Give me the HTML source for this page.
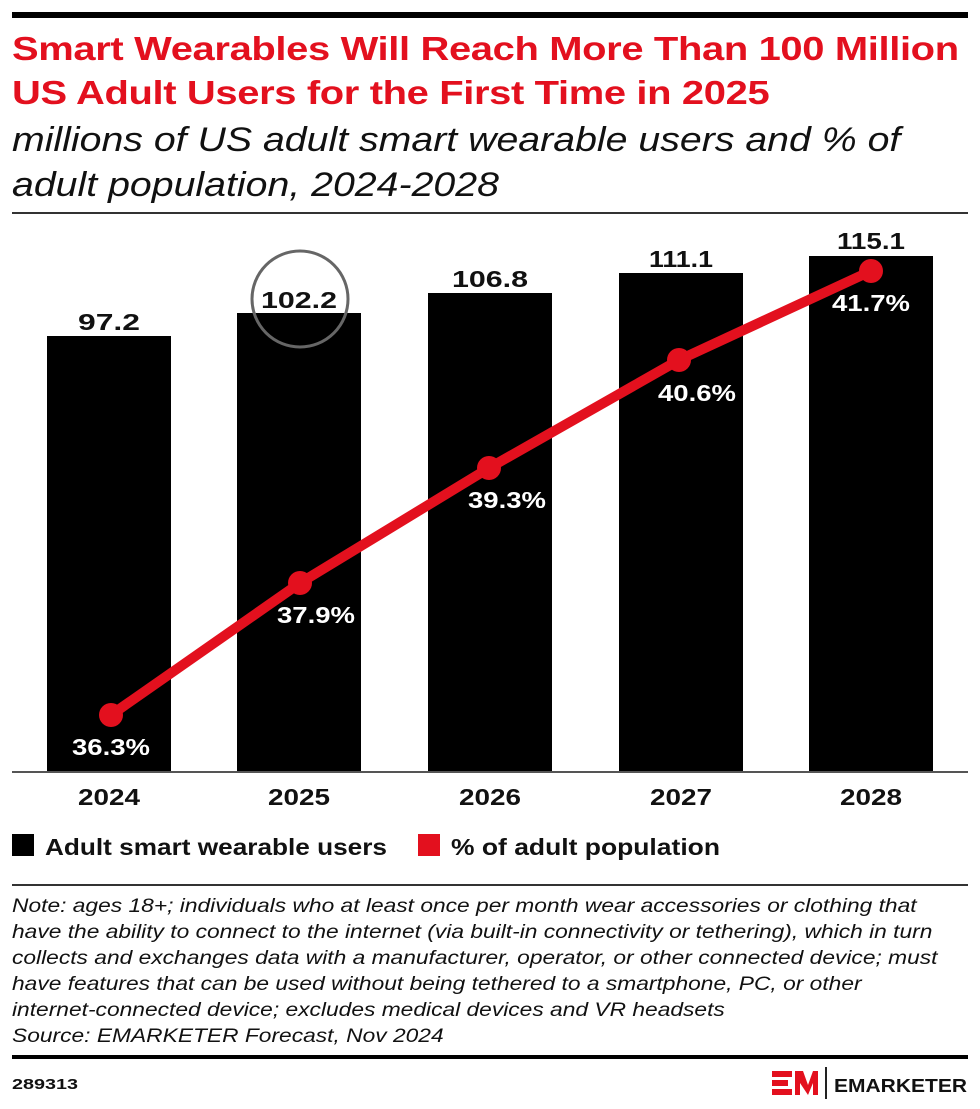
<!DOCTYPE html>
<html><head><style>
body{margin:0;background:#fff;width:980px;height:1109px;position:relative;font-family:"Liberation Sans",sans-serif;overflow:hidden}
.a{position:absolute;white-space:nowrap;transform-origin:0 0}
</style></head><body>
<div class="a" style="left:12px;top:12px;width:956px;height:6px;background:#000"></div>
<div class="a" style="left:12px;top:27px;font-size:33px;font-weight:bold;color:#e3101e;line-height:44px;letter-spacing:-0.3px;transform:scaleX(1.21)">Smart Wearables Will Reach More Than 100 Million<br>US Adult Users for the First Time in 2025</div>
<div class="a" style="left:12px;top:118px;font-size:34px;font-style:italic;color:#111;line-height:45px;transform:scaleX(1.155)">millions of US adult smart wearable users and % of<br>adult population, 2024-2028</div>
<div class="a" style="left:12px;top:212px;width:956px;height:2px;background:#333"></div>
<svg class="a" style="left:0;top:0" width="980" height="1109">
<g fill="#000">
<rect x="47" y="336" width="124" height="436"/>
<rect x="237" y="313" width="124" height="459"/>
<rect x="428" y="293" width="124" height="479"/>
<rect x="619" y="273" width="124" height="499"/>
<rect x="809" y="256" width="124" height="516"/>
</g>
<rect x="12" y="771" width="956" height="2" fill="#555"/>
<circle cx="300" cy="299" r="48" fill="none" stroke="#666" stroke-width="3"/>
<g font-family="Liberation Sans" font-weight="bold" font-size="23" text-anchor="middle" fill="#111" lengthAdjust="spacingAndGlyphs">
<text x="109" y="330" textLength="62" lengthAdjust="spacingAndGlyphs">97.2</text><text x="299" y="308" textLength="76" lengthAdjust="spacingAndGlyphs">102.2</text><text x="490" y="287" textLength="76" lengthAdjust="spacingAndGlyphs">106.8</text><text x="681" y="267" textLength="64" lengthAdjust="spacingAndGlyphs">111.1</text><text x="871" y="249" textLength="68" lengthAdjust="spacingAndGlyphs">115.1</text>
<text x="109" y="805" textLength="62" lengthAdjust="spacingAndGlyphs">2024</text><text x="299" y="805" textLength="62" lengthAdjust="spacingAndGlyphs">2025</text><text x="490" y="805" textLength="62" lengthAdjust="spacingAndGlyphs">2026</text><text x="681" y="805" textLength="62" lengthAdjust="spacingAndGlyphs">2027</text><text x="871" y="805" textLength="62" lengthAdjust="spacingAndGlyphs">2028</text>
</g>
<polyline points="111,715 300,583 489,468 679,360 871,271" fill="none" stroke="#e3101e" stroke-width="10" stroke-linejoin="round"/>
<g fill="#e3101e"><circle cx="111" cy="715" r="12"/><circle cx="300" cy="583" r="12"/><circle cx="489" cy="468" r="12"/><circle cx="679" cy="360" r="12"/><circle cx="871" cy="271" r="12"/></g>
<g font-family="Liberation Sans" font-weight="bold" font-size="23" text-anchor="middle" fill="#fff">
<text x="111" y="755" textLength="78" lengthAdjust="spacingAndGlyphs">36.3%</text><text x="316" y="623" textLength="78" lengthAdjust="spacingAndGlyphs">37.9%</text><text x="507" y="508" textLength="78" lengthAdjust="spacingAndGlyphs">39.3%</text><text x="697" y="401" textLength="78" lengthAdjust="spacingAndGlyphs">40.6%</text><text x="871" y="311" textLength="78" lengthAdjust="spacingAndGlyphs">41.7%</text>
</g>
<rect x="12" y="834" width="22" height="22" fill="#000"/>
<rect x="418" y="834" width="22" height="22" fill="#e3101e"/>
<g font-family="Liberation Sans" font-weight="bold" font-size="23" fill="#111">
<text x="45" y="855" textLength="342" lengthAdjust="spacingAndGlyphs">Adult smart wearable users</text><text x="451" y="855" textLength="269" lengthAdjust="spacingAndGlyphs">% of adult population</text>
</g>
<rect x="12" y="884" width="956" height="2" fill="#333"/>
<rect x="12" y="1055" width="956" height="4" fill="#000"/>
<g fill="#e3101e"><rect x="772" y="1071" width="20" height="6"/><rect x="772" y="1080" width="16" height="6"/><rect x="772" y="1089" width="20" height="6"/>
<polygon points="795,1095 795,1071 803,1071 808,1085 813,1071 818,1071 818,1095 813,1095 813,1083 808,1095 800,1083 800,1095"/></g>
<rect x="825" y="1067" width="2" height="32" fill="#222"/>
<text x="834" y="1092" font-family="Liberation Sans" font-weight="bold" font-size="18" textLength="133" lengthAdjust="spacingAndGlyphs" fill="#111">EMARKETER</text>
<text x="12" y="1089" font-family="Liberation Sans" font-weight="bold" font-size="15" textLength="66" lengthAdjust="spacingAndGlyphs" fill="#111">289313</text>
</svg>
<div class="a" style="left:12px;top:893px;font-size:19.5px;font-style:italic;color:#111;line-height:26px;transform:scaleX(1.168)">Note: ages 18+; individuals who at least once per month wear accessories or clothing that<br>have the ability to connect to the internet (via built-in connectivity or tethering), which in turn<br>collects and exchanges data with a manufacturer, operator, or other connected device; must<br>have features that can be used without being tethered to a smartphone, PC, or other<br>internet-connected device; excludes medical devices and VR headsets<br>Source: EMARKETER Forecast, Nov 2024</div>
</body></html>
